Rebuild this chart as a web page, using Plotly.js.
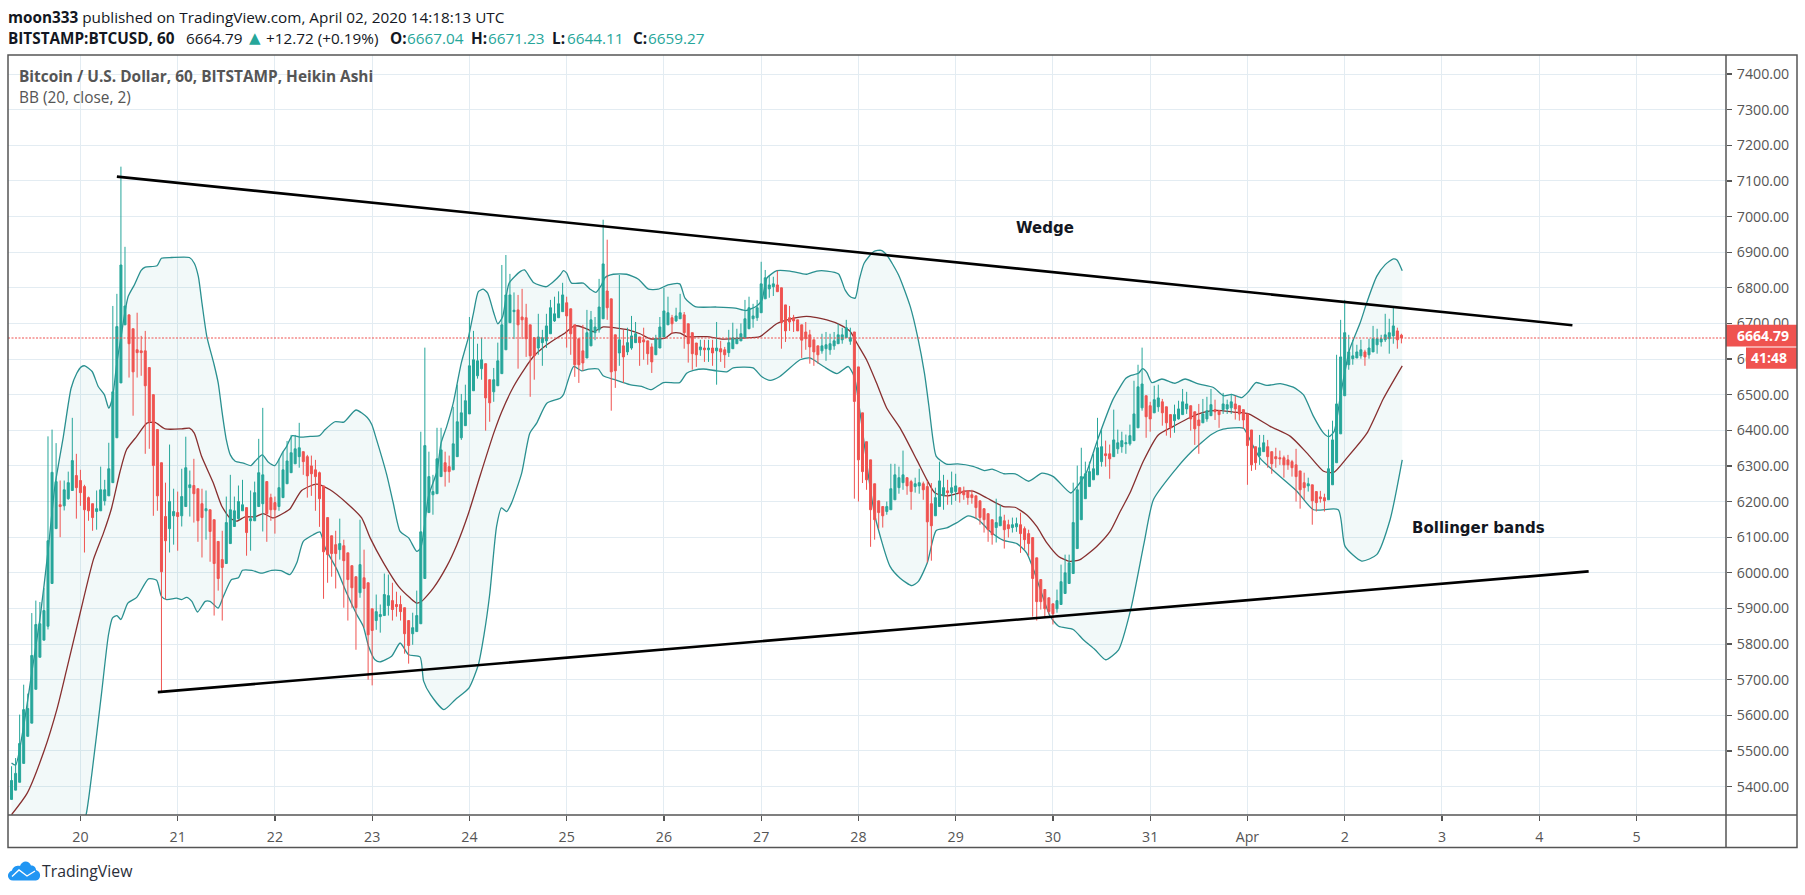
<!DOCTYPE html>
<html><head><meta charset="utf-8">
<script src="https://cdn.plot.ly/plotly-3.0.1.min.js"></script>
<style>html,body{margin:0;padding:0;background:#fff}#chart{width:1805px;height:895px}</style>
</head><body><div id="chart"></div>
<script>
// Hours are counted from 20 March 00:00 UTC; candles are hourly.
const firstCandleHour = -17;
const dayTickHours = [0,24,48,72,96,120,144,168,192,216,240,264,288,312,336,360,384];
const dayTickLabels = ["20","21","22","23","24","25","26","27","28","29","30","31","Apr","2","3","4","5"];
const priceTicks = [5400,5500,5600,5700,5800,5900,6000,6100,6200,6300,6400,6500,6600,6700,6800,6900,7000,7100,7200,7300,7400];

const open = [
5364,5390,5412,5465,5541,5578,5673,5763,5811,5850,
5970,6124,6191,6188,6208,6231,6273,6259,6242,6211,
6194,6172,6174,6202,6216,6253,6379,6533,6696,6724,
6685,6626,6623,6623,6576,6500,6402,6309,6158,6124,
6160,6169,6160,6186,6239,6245,6236,6194,6174,6177,
6149,6088,6037,6026,6082,6130,6152,6174,6183,6146,
6146,6186,6194,6256,6211,6197,6186,6211,6250,6281,
6306,6326,6340,6326,6300,6289,6281,6244,6155,6104,
6079,6065,6076,6056,6020,5989,5944,5986,5972,5899,
5866,5877,5880,5908,5922,5911,5911,5902,5866,5829,
5835,5857,5984,6169,6219,6222,6270,6309,6298,6289,
6326,6379,6413,6446,6511,6553,6573,6587,6542,6508,
6525,6559,6626,6702,6733,6738,6718,6716,6696,6660,
6631,6646,6651,6671,6707,6716,6733,6758,6741,6696,
6657,6623,6603,6637,6674,6682,6713,6791,6769,6668,
6617,6637,6620,6631,6646,6662,6654,6651,6634,6612,
6631,6662,6696,6716,6707,6713,6724,6699,6674,6645,
6626,6631,6626,6631,6623,6629,6626,6618,6629,6643,
6651,6660,6685,6713,6716,6730,6769,6797,6803,6808,
6800,6752,6716,6716,6710,6696,6676,6668,6654,6637,
6623,6629,6626,6637,6643,6654,6660,6650,6676,6578,
6449,6368,6317,6250,6202,6186,6172,6177,6205,6239,
6253,6267,6256,6242,6244,6250,6242,6194,6160,6186,
6216,6230,6225,6228,6239,6230,6230,6219,6216,6202,
6180,6166,6149,6127,6132,6146,6135,6127,6129,6135,
6124,6110,6099,6042,5981,5953,5930,5913,5899,5911,
5942,5970,5998,6068,6149,6208,6242,6261,6275,6312,
6334,6334,6326,6348,6354,6362,6362,6371,6407,6463,
6497,6469,6449,6466,6480,6466,6444,6427,6432,6444,
6460,6469,6452,6429,6421,6432,6441,6458,6455,6458,
6460,6463,6474,6469,6458,6446,6401,6354,6329,6340,
6354,6340,6326,6323,6323,6317,6312,6303,6286,6253,
6244,6247,6228,6213,6211,6205,6247,6309,6390,6497,
6584,6601,6603,6609,6620,6612,6620,6640,6648,6654,
6657,6665,6679,6667];
const high = [
5457,5480,5602,5686,5661,5887,5922,5918,5957,6383,
6402,6364,6259,6259,6284,6435,6334,6289,6247,6214,
6194,6231,6298,6261,6365,6749,6783,7140,6915,6724,
6685,6730,6665,6679,6576,6500,6402,6309,6253,6360,
6236,6228,6292,6382,6287,6320,6236,6236,6231,6177,
6149,6088,6118,6214,6275,6214,6245,6261,6183,6231,
6256,6376,6463,6256,6222,6214,6320,6340,6370,6387,
6387,6421,6340,6331,6329,6317,6284,6244,6155,6104,
6118,6152,6093,6056,6020,5989,6149,6065,5972,5899,
5939,5911,5998,5995,5972,5947,5936,5902,5866,5888,
5950,6396,6632,6340,6275,6407,6407,6340,6329,6466,
6528,6502,6528,6718,6679,6643,6660,6587,6542,6575,
6646,6864,6892,6839,6787,6780,6797,6755,6696,6660,
6727,6682,6727,6766,6775,6790,6814,6775,6741,6696,
6657,6696,6738,6735,6718,6825,6991,6935,6769,6668,
6836,6682,6688,6721,6704,6662,6688,6651,6644,6668,
6718,6800,6775,6724,6744,6783,6732,6699,6674,6645,
6654,6654,6654,6654,6704,6651,6634,6682,6702,6685,
6700,6766,6775,6755,6766,6873,6850,6833,6831,6848,
6800,6752,6749,6724,6710,6696,6704,6682,6654,6637,
6671,6676,6671,6676,6699,6688,6710,6688,6676,6578,
6449,6368,6317,6250,6202,6186,6200,6306,6306,6298,
6343,6267,6261,6267,6292,6256,6258,6252,6239,6312,
6275,6261,6284,6278,6239,6242,6230,6233,6216,6202,
6180,6166,6149,6208,6191,6163,6149,6155,6155,6169,
6130,6121,6099,6042,5981,5953,5930,5913,5953,6023,
6051,6051,6253,6301,6351,6312,6312,6334,6435,6402,
6371,6360,6458,6402,6396,6388,6416,6539,6584,6632,
6497,6480,6525,6528,6488,6466,6444,6472,6483,6516,
6508,6469,6452,6474,6488,6494,6516,6486,6455,6505,
6486,6502,6497,6469,6458,6446,6401,6354,6387,6387,
6373,6340,6351,6343,6329,6331,6317,6348,6286,6281,
6267,6247,6228,6230,6222,6402,6427,6612,6710,6766,
6668,6654,6640,6654,6626,6657,6693,6685,6668,6727,
6713,6744,6688,6671];
const low = [
5364,5390,5412,5465,5541,5578,5673,5763,5811,5841,
5970,6124,6100,6175,6205,6231,6152,6188,6057,6146,
6118,6121,6174,6189,6216,6253,6379,6533,6696,6548,
6441,6548,6553,6334,6348,6160,6174,5668,5925,6057,
6079,6062,6130,6186,6158,6141,6087,6043,6093,6031,
5880,5950,5866,6026,6082,6130,6149,6174,6048,6062,
6146,6186,6116,6087,6146,6110,6174,6211,6250,6281,
6306,6295,6275,6211,6216,6174,6129,5927,5972,5989,
5956,6037,5902,5866,5902,5784,5930,5846,5700,5684,
5840,5832,5880,5880,5866,5877,5866,5773,5745,5798,
5835,5857,5984,6169,6163,6222,6270,6242,6253,6289,
6326,6373,6413,6446,6511,6545,6542,6399,6424,6480,
6525,6559,6626,6702,6656,6573,6656,6606,6494,6542,
6612,6581,6631,6671,6704,6716,6733,6632,6612,6550,
6533,6567,6603,6637,6653,6674,6713,6710,6455,6519,
6581,6533,6611,6626,6646,6581,6598,6584,6561,6612,
6631,6662,6696,6671,6704,6713,6629,6590,6570,6578,
6609,6592,6592,6581,6528,6592,6575,6606,6629,6643,
6651,6660,6685,6688,6707,6730,6769,6772,6777,6789,
6629,6648,6679,6676,6679,6603,6626,6587,6581,6587,
6615,6595,6612,6626,6643,6643,6660,6640,6208,6200,
6252,6233,6073,6093,6124,6127,6163,6177,6205,6222,
6233,6219,6177,6225,6222,6205,6029,6034,6160,6186,
6177,6191,6191,6202,6197,6205,6191,6194,6152,6135,
6113,6087,6079,6085,6132,6068,6099,6113,6115,6056,
6065,6048,5877,5866,5897,5877,5883,5855,5888,5911,
5942,5970,5998,6068,6149,6208,6242,6261,6275,6298,
6298,6264,6326,6334,6337,6334,6357,6371,6407,6455,
6379,6396,6449,6452,6413,6385,6379,6393,6430,6444,
6446,6399,6359,6334,6421,6424,6441,6429,6407,6446,
6446,6446,6430,6427,6404,6247,6286,6289,6303,6340,
6295,6278,6295,6303,6267,6289,6270,6200,6180,6205,
6228,6135,6172,6197,6172,6205,6247,6309,6390,6497,
6570,6584,6603,6601,6581,6601,6620,6615,6635,6648,
6615,6643,6629,6644];
const close = [
5417,5437,5521,5616,5619,5768,5855,5857,5894,6090,
6282,6256,6186,6233,6253,6315,6239,6225,6177,6174,
6155,6180,6233,6233,6292,6508,6691,6864,6749,6643,
6564,6618,6618,6525,6424,6301,6216,6003,6090,6200,
6172,6158,6214,6295,6247,6222,6146,6155,6180,6116,
6026,5984,6015,6141,6177,6174,6200,6191,6113,6152,
6225,6281,6275,6166,6177,6177,6239,6289,6314,6337,
6348,6351,6312,6272,6278,6270,6208,6059,6051,6054,
6054,6082,6034,5981,5958,5902,6023,5956,5826,5838,
5891,5883,5939,5936,5897,5905,5891,5829,5796,5846,
5880,6115,6357,6270,6228,6320,6345,6284,6284,6362,
6424,6449,6483,6581,6598,6595,6598,6491,6477,6542,
6595,6696,6780,6780,6737,6696,6710,6657,6609,6609,
6662,6660,6693,6744,6727,6755,6780,6721,6671,6584,
6584,6589,6674,6710,6690,6746,6867,6744,6564,6567,
6654,6606,6646,6665,6671,6646,6648,6615,6592,6657,
6690,6735,6730,6699,6721,6730,6674,6643,6615,6612,
6634,6626,6631,6617,6631,6620,6612,6646,6660,6660,
6671,6713,6744,6721,6744,6811,6828,6808,6811,6789,
6702,6679,6704,6707,6679,6653,6657,6634,6620,6612,
6637,6640,6643,6651,6668,6668,6688,6660,6481,6317,
6284,6261,6177,6149,6169,6160,6186,6236,6275,6267,
6275,6244,6228,6250,6253,6233,6143,6132,6211,6258,
6239,6225,6239,6244,6222,6219,6211,6211,6183,6155,
6149,6121,6107,6141,6157,6121,6124,6135,6138,6110,
6093,6082,5984,5919,5919,5899,5891,5885,5922,5975,
6000,6028,6141,6233,6270,6278,6284,6292,6351,6354,
6329,6320,6373,6365,6371,6365,6385,6446,6522,6530,
6438,6432,6486,6491,6449,6421,6407,6444,6460,6480,
6474,6432,6404,6413,6446,6455,6472,6452,6444,6474,
6472,6480,6460,6446,6429,6357,6303,6309,6351,6365,
6326,6306,6320,6320,6303,6303,6295,6270,6233,6239,
6250,6202,6197,6208,6202,6292,6373,6474,6606,6674,
6620,6609,6620,6626,6606,6631,6657,6657,6657,6668,
6674,6693,6654,6659];

const upperHours = [-17,-16,-14,-12,-10,-8,-6.3,-4.2,-2.3,-0.9,0.2,1.1,2.9,4.4,5.9,7,7.9,9,10,10.8,11.8,13.3,15,16,18.9,20,22.5,26.9,28.1,29.1,30,31.2,33,34,35,36,37,38.2,40.2,42.1,43.1,44.9,46.4,48,49.9,50.9,52.3,54.2,56.7,59,60.4,62.8,65,68,70.8,71.9,73.1,75.6,77.2,78.9,81,83,84,85.9,88,89,90.4,92,94,95.8,97,98.2,99.4,100.5,102,103,104.2,105.8,108.6,109.6,111.9,115,116.5,118.4,119.2,120,121.2,124.1,125.8,127.2,128.6,129.5,131.5,134.8,137.7,140.2,142.6,145,147.9,149.2,151.7,157,161.6,164.2,166.9,168.2,169.4,171.9,175.1,179.2,181.7,184.2,187.1,188.7,190.1,191.2,192.2,193.4,195.8,197.6,199,201.9,204.8,206.6,208.3,209.4,210.4,211.2,213.7,216.5,220.3,223.1,225,227.9,230.7,234,237.3,240.1,244.4,246,248.2,251,254.8,258,259,261.1,262.1,263.2,264.4,266.9,270.1,272.6,275.9,279.6,282.1,284.1,286.6,288.3,290.1,292.8,296.1,299.3,301.8,304.3,306.8,308.1,309.4,311,313.2,315.8,317.5,319.9,322,324,324.9,326.2];
const upperBand = [5466,5460,5570,5720,5870,6060,6243,6383,6518,6560,6578,6581,6565,6523,6500,6462,6490,6590,6660,6719,6776,6808,6849,6858,6862,6883,6885,6885,6869,6832,6757,6663,6584,6533,6448,6374,6331,6313,6308,6301,6313,6331,6310,6301,6338,6355,6385,6381,6383,6385,6402,6424,6423,6457,6436,6416,6373,6275,6196,6116,6098,6060,6070,6215,6285,6364,6411,6476,6589,6663,6729,6789,6796,6785,6730,6699,6719,6813,6846,6850,6814,6803,6815,6836,6848,6841,6813,6813,6796,6787,6808,6829,6838,6838,6824,6796,6796,6808,6811,6771,6747,6746,6743,6736,6749,6766,6827,6848,6847,6838,6847,6847,6839,6794,6774,6771,6822,6869,6902,6905,6892,6836,6747,6663,6560,6467,6374,6327,6305,6306,6299,6287,6291,6278,6278,6257,6280,6270,6224,6243,6280,6373,6486,6546,6553,6560,6573,6562,6534,6544,6532,6544,6530,6520,6497,6501,6492,6509,6534,6526,6531,6521,6500,6439,6392,6382,6397,6500,6626,6701,6760,6832,6865,6881,6878,6848];

const middleHours = [-17,-13.2,-9,-5.7,-3.4,0,3.2,5.7,7.7,9.8,11.4,13.9,16.4,18.4,20.9,25,26.9,28.1,29.9,32.8,34.9,36.9,38.6,40.6,43.1,45.1,47.6,50.5,51.7,54.6,58.3,61.6,65.7,69.4,71.5,74.8,78.5,81.4,83,84.2,87.1,90.4,92.9,95.8,98.6,102,104,106.9,109.7,111.8,115.1,117.6,119.6,122,124.5,126.6,129,132.4,135.2,138.1,140.6,144.3,146,148,149.6,154.6,158.7,163.6,167.7,171.8,175.1,179.2,184.2,187.5,190,191.6,194,196.5,199,202.3,206.4,208.9,210.9,213.8,216.2,218.3,220.3,223.7,227.8,230.6,233.5,236,238.5,241.4,244.2,246.7,250.8,254.1,256.6,259,262.3,266,269.7,273.8,277.1,280.4,284.6,288.3,293.6,298.6,302.7,306.8,309.3,312.5,317.5,321.6,326.2];
const middleBand = [5321,5380,5499,5621,5728,5890,6037,6112,6182,6285,6346,6383,6420,6422,6404,6404,6406,6392,6327,6252,6187,6154,6145,6157,6157,6166,6154,6170,6179,6231,6249,6233,6196,6154,6098,6028,5962,5929,5915,5920,5957,6018,6079,6168,6271,6392,6453,6523,6574,6607,6640,6659,6673,6694,6687,6677,6690,6687,6682,6671,6657,6659,6673,6673,6663,6663,6656,6659,6663,6699,6712,6720,6710,6696,6677,6645,6598,6532,6462,6406,6317,6261,6224,6216,6222,6229,6229,6210,6186,6184,6163,6130,6084,6046,6032,6037,6074,6116,6172,6224,6313,6387,6411,6436,6450,6456,6451,6446,6411,6383,6336,6285,6282,6322,6392,6490,6581];

const lowerHours = [-17,-8,0,1.4,2.8,5.2,6.9,7.9,9,10,11.7,13.9,16.8,18.8,20,21.3,23.7,25,26.2,27.5,28.9,30.8,32,34,35.3,37.3,39,40,42.3,44.7,47.2,49.5,51.7,53.4,55,57.5,59.1,60.4,63.3,65.7,68.2,69.8,71.1,72.7,73.9,76.8,78.9,81,83.8,84.7,86.4,89.7,92.5,95.9,98.2,99.6,101,102.7,103.9,105.2,106.4,108.9,110.9,112.6,115.1,118.4,119.2,120.4,121.7,123.7,125.4,127.8,129,131.9,135.6,138.5,140.9,143.9,147.9,149.6,151.3,153.7,157,159.5,161.1,166,168.1,170.2,172.6,177.6,180,183.4,186.7,189.5,190.6,191.2,193,194.5,196.1,199.8,202.3,205.2,206.8,209,211.2,213.8,216.2,219.1,221.6,224.5,227.8,231.1,233.5,235.2,237.2,239.3,241.4,245,247.5,250.4,253,256.2,259.2,262.5,264.8,270.2,274.3,279.2,282,287,288.2,291.1,300.2,304.3,310.4,312.1,316.2,319.9,323.2,326.2];
const lowerBand = [5170,5230,5280,5321,5434,5660,5824,5873,5880,5869,5915,5931,5983,5979,5934,5925,5929,5925,5931,5920,5890,5920,5920,5901,5934,5981,5986,6007,6007,5999,6007,6006,5995,6028,6088,6107,6115,6070,6009,5943,5883,5850,5794,5756,5750,5766,5803,5770,5764,5696,5658,5616,5644,5677,5742,5826,5939,6130,6182,6172,6196,6280,6392,6420,6476,6490,6500,6542,6579,6567,6572,6572,6553,6542,6528,6523,6514,6534,6534,6560,6568,6572,6567,6564,6575,6575,6551,6540,6551,6598,6603,6579,6559,6579,6560,6540,6400,6270,6158,6018,5985,5964,5976,6028,6119,6126,6140,6160,6149,6116,6091,6082,6056,6009,5943,5878,5850,5841,5812,5784,5756,5784,5897,6084,6205,6289,6341,6389,6403,6406,6383,6322,6229,6177,6177,6074,6033,6051,6149,6317];

const wedgeTopHours = [9,368.2];
const wedgeTopPrices = [7112,6695];
const wedgeBottomHours = [19.1,372.2];
const wedgeBottomPrices = [5665,6004];
const lastClose = 6659;
const lastPriceLabel = "6664.79";
const countdownLabel = "41:48";

const xRange = [-17.87,406.1];
const yRange = [5320.2,7453.4];
const W = 1805, H = 895, mL = 8, mR = 79, mT = 55, mB = 79.5;
const px = x => (x - mL) / (W - mL - mR);
const py = y => ((H - mB) - y) / (H - mT - mB);

const GREEN = '#26a69a', RED = '#ef5350', GRID = '#e3ecf2', INK = '#555555', DARK = '#131722';
const candleHours = open.map((_, i) => firstCandleHour + i);
const smooth = c => ({color:c,width:1.3,shape:'spline',smoothing:0.6});

const traces = [
  {type:'scatter',mode:'lines',x:upperHours,y:upperBand,line:smooth('#2a9090'),hoverinfo:'skip',showlegend:false},
  {type:'scatter',mode:'lines',x:lowerHours,y:lowerBand,line:smooth('#2a9090'),fill:'tonexty',fillcolor:'rgba(38,150,150,0.06)',hoverinfo:'skip',showlegend:false},
  {type:'scatter',mode:'lines',x:middleHours,y:middleBand,line:smooth('#872f2f'),hoverinfo:'skip',showlegend:false},
  {type:'candlestick',x:candleHours,open:open,high:high,low:low,close:close,xaxis:'x2',yaxis:'y2',
    increasing:{line:{color:GREEN,width:1},fillcolor:GREEN},
    decreasing:{line:{color:RED,width:1},fillcolor:RED},hoverinfo:'skip',showlegend:false},
  {type:'scatter',mode:'lines',x:xRange,y:[lastClose,lastClose],xaxis:'x2',yaxis:'y2',line:{color:RED,width:1.2,dash:'2px,1.5px'},hoverinfo:'skip',showlegend:false},
  {type:'scatter',mode:'lines',x:wedgeTopHours,y:wedgeTopPrices,xaxis:'x2',yaxis:'y2',line:{color:'#000',width:2.6},hoverinfo:'skip',showlegend:false},
  {type:'scatter',mode:'lines',x:wedgeBottomHours,y:wedgeBottomPrices,xaxis:'x2',yaxis:'y2',line:{color:'#000',width:2.6},hoverinfo:'skip',showlegend:false}
];

function label(x,y,text,size,color,opts){
  return Object.assign({xref:'paper',yref:'paper',x:px(x),y:py(y),text:text,showarrow:false,xanchor:'left',yanchor:'middle',
    borderpad:0,borderwidth:0,font:{family:'"Open Sans",sans-serif',size:size,color:color}},opts||{});
}
function pathOf(points){
  return points.map(p => p[0]+(p[0]==='Z'?'':' '+p.slice(1).map((v,i)=> (i%2===0?px(v):py(v))).join(' '))).join(' ');
}

const HF = 15.3;
const annotations = [
  label(8,16.7,'<b>moon333</b> published on TradingView.com, April 02, 2020 14:18:13 UTC',HF,DARK),
  label(8,38.3,'<b>BITSTAMP:BTCUSD, 60</b>',HF,DARK),
  label(186,38.3,'6664.79',HF,DARK),
  label(249,37.5,'▲',15,GREEN,{font:{family:'"DejaVu Sans",sans-serif',size:15,color:GREEN}}),
  label(266,38.3,'+12.72 (+0.19%)',HF,DARK),
  label(390,38.3,'<b>O:</b>',HF,DARK), label(407,38.3,'6667.04',HF,GREEN),
  label(471,38.3,'<b>H:</b>',HF,DARK), label(488,38.3,'6671.23',HF,GREEN),
  label(552,38.3,'<b>L:</b>',HF,DARK), label(566.5,38.3,'6644.11',HF,GREEN),
  label(633,38.3,'<b>C:</b>',HF,DARK), label(647.5,38.3,'6659.27',HF,GREEN),
  label(19,76.7,'<b>Bitcoin / U.S. Dollar, 60, BITSTAMP, Heikin Ashi</b>',15.4,'#555'),
  label(19,97.7,'BB (20, close, 2)',15.4,'#555'),
  {xref:'x2',yref:'y2',x:238,y:6969,text:'<b>Wedge</b>',showarrow:false,font:{family:'"DejaVu Sans",sans-serif',size:15,color:'#131722'}},
  {xref:'x2',yref:'y2',x:345,y:6127,text:'<b>Bollinger bands</b>',showarrow:false,font:{family:'"DejaVu Sans",sans-serif',size:15,color:'#131722'}},
  label(1737,335.6,'<b>'+lastPriceLabel+'</b>',14,'#fff'),
  label(1751,358,'<b>'+countdownLabel+'</b>',14,'#fff'),
  label(42,871.7,'TradingView',15.8,'#2a2e39')
];

const frame = {color:INK,width:1.5};
const shapes = [
  {type:'rect',xref:'paper',yref:'paper',x0:px(1726),x1:px(1797),y0:py(346.7),y1:py(325),fillcolor:RED,line:{width:0},layer:'above'},
  {type:'rect',xref:'paper',yref:'paper',x0:px(1746),x1:px(1797),y0:py(369),y1:py(347.7),fillcolor:RED,line:{width:0},layer:'above'},
  {type:'line',xref:'paper',yref:'paper',x0:px(8),x1:px(1797),y0:py(815.5),y1:py(815.5),line:frame,layer:'above'},
  {type:'line',xref:'paper',yref:'paper',x0:px(1726),x1:px(1726),y0:py(55),y1:py(848),line:frame,layer:'above'},
  {type:'rect',xref:'paper',yref:'paper',x0:px(8),x1:px(1797),y0:py(848),y1:py(55),line:frame,layer:'above'},
  {type:'path',xref:'paper',yref:'paper',layer:'above',fillcolor:'#2196f3',line:{width:0},
   path:pathOf([['M',13,881],['C',7,881,6,873,12,871],['C',13,867,17,866,20,866.5],['C',22,860.5,29,860.5,31,866],['C',34,866,36,868,36,870.5],['C',42,872,41,881,36,881],['Z']])},
  {type:'path',xref:'paper',yref:'paper',layer:'above',line:{color:'#fff',width:1.3},
   path:pathOf([['M',12,877],['L',19,870.5],['L',27,876.5],['L',35,871.5]])}
];

const tickFont = {size:14.2,color:INK,family:'"Open Sans",sans-serif'};
const layout = {
  width:W,height:H,autosize:false,showlegend:false,
  margin:{l:mL,r:mR,t:mT,b:mB,pad:0},
  paper_bgcolor:'#fff',plot_bgcolor:'#fff',
  font:{family:'"Open Sans",sans-serif',color:INK,size:13},
  xaxis:{range:xRange,tickmode:'array',tickvals:dayTickHours,ticktext:dayTickLabels,showgrid:true,gridcolor:GRID,gridwidth:1,zeroline:false,
    showline:false,ticks:'outside',ticklen:5,tickcolor:INK,tickwidth:1.2,tickfont:tickFont,ticklabelstandoff:4,fixedrange:true},
  yaxis:{range:yRange,side:'right',tickmode:'array',tickvals:priceTicks,ticktext:priceTicks.map(v=>v.toFixed(2)),showgrid:true,gridcolor:GRID,gridwidth:1,zeroline:false,
    showline:false,ticks:'outside',ticklen:5,tickcolor:INK,tickwidth:1.2,tickfont:tickFont,ticklabelstandoff:2,fixedrange:true},
  xaxis2:{range:xRange,overlaying:'x',anchor:'y2',visible:false,showgrid:false,zeroline:false,fixedrange:true,rangeslider:{visible:false}},
  yaxis2:{range:yRange,overlaying:'y',anchor:'x2',side:'right',visible:false,showgrid:false,zeroline:false,fixedrange:true},
  annotations:annotations,shapes:shapes
};
Plotly.newPlot('chart',traces,layout,{staticPlot:true,displayModeBar:false});
</script></body></html>
